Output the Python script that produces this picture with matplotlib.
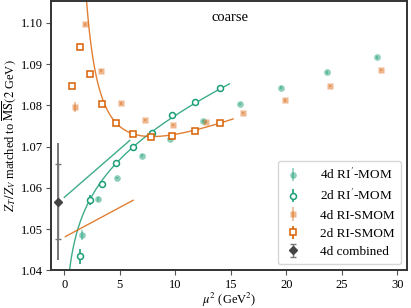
import numpy as np
import matplotlib
matplotlib.use("Agg")
import matplotlib.pyplot as plt

plt.rcParams['font.family'] = ['Liberation Serif', 'DejaVu Serif']
plt.rcParams['mathtext.fontset'] = 'stix'

# ---- data ----
mu2_4d_mom = [1.63, 3.04, 4.78, 6.96, 9.48, 12.47, 15.8, 19.54, 23.67, 28.2]
z_4d_mom = [1.0485, 1.0573, 1.0624, 1.0678, 1.0719, 1.0761, 1.0803, 1.0843, 1.0880, 1.0916]
e_4d_mom = [0.0012, 0.0004, 0.0003, 0.0003, 0.0003, 0.0003, 0.0003, 0.0003, 0.0003, 0.0003]

mu2_2d_mom = [1.42, 2.32, 3.37, 4.69, 6.15, 7.86, 9.72, 11.75, 14.03]
z_2d_mom = [1.0434, 1.0570, 1.0609, 1.0660, 1.0700, 1.0733, 1.0776, 1.0808, 1.0841]
e_2d_mom = [0.0018, 0.0012, 0.0006, 0.0004, 0.0003, 0.0003, 0.0003, 0.0003, 0.0003]

mu2_4d_smom = [0.92, 1.9, 3.3, 5.08, 7.23, 9.8, 12.8, 16.07, 19.84, 23.97, 28.5]
z_4d_smom = [1.0797, 1.0996, 1.0884, 1.0805, 1.0765, 1.0752, 1.0759, 1.0781, 1.0812, 1.0847, 1.0886]
e_4d_smom = [0.0012, 0.0003, 0.0003, 0.0003, 0.0003, 0.0003, 0.0003, 0.0003, 0.0003, 0.0003, 0.0003]

mu2_2d_smom = [0.73, 1.42, 2.29, 3.40, 4.69, 6.15, 7.83, 9.69, 11.75, 14.06]
z_2d_smom = [1.0847, 1.0942, 1.0875, 1.0803, 1.0757, 1.0731, 1.0723, 1.0726, 1.0739, 1.0758]
e_2d_smom = [0.0008, 0.0002, 0.0002, 0.0002, 0.0002, 0.0002, 0.0002, 0.0002, 0.0002, 0.0002]

mu2_comb = [-0.56]
z_comb = [1.0567]
e_comb_inner = [0.0090]
e_comb_outer = [0.0141]

# fit parameters
fit_mom = [1.047114, 0.000764, 0.009902]            # a + b x + c ln x
fit_mom_range = [0.45, 14.87]
fit_smom = [1.056095, 0.001126, 0.04683, 0.0946]     # a + b x + c/x + d/x^2
fit_smom_range = [1.93, 15.2]
line_mom4d = [[0.0, 5.9], [1.0577, 1.0715]]
line_smom4d = [[0.1, 6.2], [1.0482, 1.0570]]

green = '#1b9e77'
orange = '#d95f02'
grey = '#444444'

fig = plt.figure(figsize=(4.11, 3.08), dpi=100)
ax = fig.add_axes([0.124, 0.122, 0.866, 0.875])

# fits
x = np.linspace(*fit_mom_range, 300)
ax.plot(x, fit_mom[0] + fit_mom[1] * x + fit_mom[2] * np.log(x), color=green, lw=1.0, alpha=0.85, zorder=2)
x = np.linspace(*fit_smom_range, 300)
ax.plot(x, fit_smom[0] + fit_smom[1] * x + fit_smom[2] / x + fit_smom[3] / x**2, color=orange, lw=1.0, alpha=0.8, zorder=2)
ax.plot(line_mom4d[0], line_mom4d[1], color=green, lw=1.0, alpha=0.85, zorder=2)
ax.plot(line_smom4d[0], line_smom4d[1], color=orange, lw=1.0, alpha=0.8, zorder=2)

ms = 4.3
ax.errorbar(mu2_4d_mom, z_4d_mom, yerr=e_4d_mom, fmt='o', color=green, alpha=0.5,
            ms=4.8, mec='none', elinewidth=1.2, label="4d RI$'$-MOM", zorder=3)
ax.errorbar(mu2_2d_mom, z_2d_mom, yerr=e_2d_mom, fmt='o', color=green, mfc='white',
            mec=green, mew=1.1, ms=ms, elinewidth=1.2, label="2d RI$'$-MOM", zorder=4)
ax.errorbar(mu2_4d_smom, z_4d_smom, yerr=e_4d_smom, fmt='s', color=orange, alpha=0.45,
            ms=5.0, mec='none', elinewidth=1.2, label="4d RI-SMOM", zorder=3)
ax.errorbar(mu2_2d_smom, z_2d_smom, yerr=e_2d_smom, fmt='s', color=orange, mfc='white',
            mec=orange, mew=1.1, ms=ms, elinewidth=1.2, label="2d RI-SMOM", zorder=4)
ax.errorbar(mu2_comb, z_comb, yerr=e_comb_outer, fmt='none', ecolor='#777777', elinewidth=1.4, zorder=3)
ax.errorbar(mu2_comb, z_comb, yerr=e_comb_inner, fmt='D', color=grey, ms=4.0,
            elinewidth=1.0, capsize=2.0, ecolor='#777777', mec=grey, label="4d combined", zorder=4)

ax.set_xlim(-1.2, 30.85)
ax.set_ylim(1.04, 1.1053)
ax.set_xticks([0, 5, 10, 15, 20, 25, 30])
ax.set_yticks([1.04, 1.05, 1.06, 1.07, 1.08, 1.09, 1.10])
ax.set_yticklabels(['1.04', '1.05', '1.06', '1.07', '1.08', '1.09', '1.10'])
ax.tick_params(labelsize=9, color='#555555', width=0.8, length=3.5, pad=2.5)
for s in ax.spines.values():
    s.set_color('#333333')
    s.set_linewidth(1.4)

ax.set_xlabel(r"$\mu^2$ (GeV$^2$)", fontsize=9, labelpad=0)
ax.set_ylabel(r"$Z_T\,/Z_V$ matched to $\overline{\rm MS}(2$ GeV$)$", fontsize=9, labelpad=2)
ax.text(0.503, 0.94, "coarse", transform=ax.transAxes, ha='center', va='center', fontsize=10.5)

leg = ax.legend(loc='lower right', fontsize=9.5, frameon=True, fancybox=True,
                borderpad=0.5, labelspacing=0.45, handletextpad=1.3, handlelength=1.4,
                borderaxespad=0.45)
leg.get_frame().set_edgecolor('#cccccc')

fig.savefig('out.png', dpi=100)
